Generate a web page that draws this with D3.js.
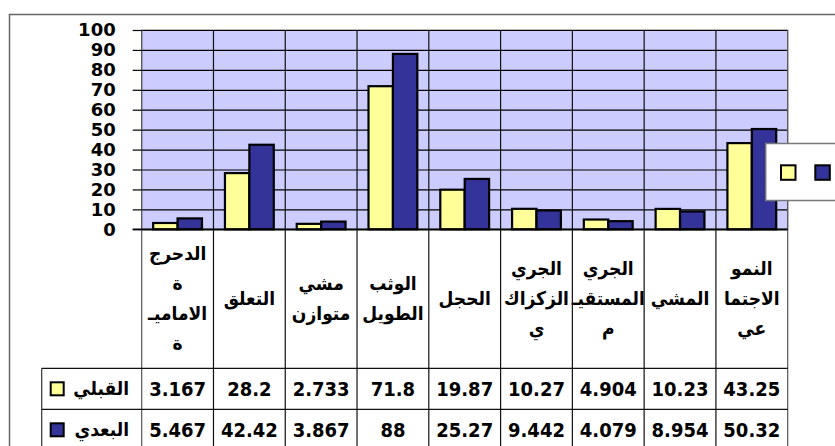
<!DOCTYPE html>
<html>
<head>
<meta charset="utf-8">
<script src="https://cdn.jsdelivr.net/npm/d3@7"></script>
<style>
  body { margin: 0; background: #fff; }
  svg { display: block; }
  .axis path { display: none; }
</style>
</head>
<body>
<script>
// Data
var categories = [
  ["الدحرج", "ة", "الاماميـ", "ة"],
  ["التعلق"],
  ["مشي", "متوازن"],
  ["الوثب", "الطويل"],
  ["الحجل"],
  ["الجري", "الزكزاك", "ي"],
  ["الجري", "المستقيـ", "م"],
  ["المشي"],
  ["النمو", "الاجتما", "عي"]
];
var seriesNames = ["القبلي", "البعدي"];
var before = [3.167, 28.2, 2.733, 71.8, 19.87, 10.27, 4.904, 10.23, 43.25];
var after = [5.467, 42.42, 3.867, 88, 25.27, 9.442, 4.079, 8.954, 50.32];
var beforeLabels = ["3.167", "28.2", "2.733", "71.8", "19.87", "10.27", "4.904", "10.23", "43.25"];
var afterLabels = ["5.467", "42.42", "3.867", "88", "25.27", "9.442", "4.079", "8.954", "50.32"];
var yTicks = [0, 10, 20, 30, 40, 50, 60, 70, 80, 90, 100];
var colors = ["#FFFF99", "#333399"];

// Width and height
var w = 835;
var h = 446;
var plotLeft = 141.7, plotRight = 787.7, plotTop = 30, plotBottom = 229.3;
var font = "'DejaVu Sans Condensed', 'DejaVu Sans', sans-serif";

var svg = d3.select("body")
            .append("svg")
            .attr("width", w)
            .attr("height", h);

// Chart area border
svg.append("rect")
  .attr("x", 9.5)
  .attr("y", 14.5)
  .attr("width", w + 10)
  .attr("height", h + 10)
  .attr("fill", "#fff")
  .attr("stroke", "#666")
  .attr("stroke-width", 1.5);

var idx = d3.range(categories.length);

// Scales
var x0 = d3.scaleBand()
           .domain(idx)
           .range([plotLeft, plotRight])
           .paddingInner(0.32)
           .paddingOuter(0.16);

var x1 = d3.scaleBand()
           .domain([0, 1])
           .range([0, x0.bandwidth()]);

var y = d3.scaleLinear()
          .domain([0, 100])
          .range([plotBottom, plotTop]);

var step = x0.step();
var colLeft = function(i) { return plotLeft + i * step; };

// Plot area background
svg.append("rect")
  .attr("x", plotLeft)
  .attr("y", plotTop)
  .attr("width", plotRight - plotLeft)
  .attr("height", plotBottom - plotTop)
  .attr("fill", "#CCCCFF")
  .attr("stroke", "#777")
  .attr("stroke-width", 1);

// Horizontal gridlines
svg.append("g")
  .attr("class", "axis")
  .attr("transform", "translate(" + plotLeft + ",0)")
  .call(d3.axisLeft(y).tickValues(yTicks).tickSize(-(plotRight - plotLeft)).tickFormat(""))
  .selectAll("line")
  .attr("stroke", "#000")
  .attr("stroke-width", 1.2);

// Vertical category lines (plot + table)
svg.selectAll("line.vgrid")
  .data(d3.range(categories.length + 1))
  .enter()
  .append("line")
  .attr("class", "vgrid")
  .attr("x1", function(d) { return colLeft(d); })
  .attr("x2", function(d) { return colLeft(d); })
  .attr("y1", plotTop)
  .attr("y2", h)
  .attr("stroke", function(d) { return d === 0 || d === categories.length ? "#555" : "#111"; })
  .attr("stroke-width", 1.2);

// Y axis labels + tick marks
var yAxis = svg.append("g")
  .attr("class", "axis")
  .attr("transform", "translate(" + plotLeft + ",0)")
  .call(d3.axisLeft(y).tickValues(yTicks).tickSize(9).tickPadding(17));
yAxis.selectAll("line").attr("stroke", "#000").attr("stroke-width", 1.2);
yAxis.selectAll("text")
  .attr("font-family", "'DejaVu Sans', sans-serif")
  .attr("font-weight", "bold")
  .attr("font-size", "18px")
  .attr("fill", "#000");

// Bars
var groups = svg.selectAll("g.cat")
  .data(idx)
  .enter()
  .append("g")
  .attr("class", "cat")
  .attr("transform", function(i) { return "translate(" + x0(i) + ",0)"; });

groups.selectAll("rect")
  .data(function(i) { return [before[i], after[i]]; })
  .enter()
  .append("rect")
  .attr("x", function(d, j) { return x1(j); })
  .attr("y", function(d) { return y(d); })
  .attr("width", x1.bandwidth())
  .attr("height", function(d) { return plotBottom - y(d); })
  .attr("fill", function(d, j) { return colors[j]; })
  .attr("stroke", "#000")
  .attr("stroke-width", 2.2);

// Axis baseline / table top
svg.append("line")
  .attr("x1", plotLeft - 9)
  .attr("x2", plotRight)
  .attr("y1", plotBottom)
  .attr("y2", plotBottom)
  .attr("stroke", "#000")
  .attr("stroke-width", 1.5);

// Data table
var headerBottom = 368.3;
var rowH = 41;
var tableLeft = 41.7;

// Horizontal table lines
svg.selectAll("line.hrow")
  .data([0, 1, 2])
  .enter()
  .append("line")
  .attr("class", "hrow")
  .attr("x1", tableLeft)
  .attr("x2", plotRight)
  .attr("y1", function(d) { return headerBottom + d * rowH; })
  .attr("y2", function(d) { return headerBottom + d * rowH; })
  .attr("stroke", "#111")
  .attr("stroke-width", 1.2);

svg.append("line")
  .attr("x1", tableLeft)
  .attr("x2", tableLeft)
  .attr("y1", headerBottom)
  .attr("y2", h)
  .attr("stroke", "#333")
  .attr("stroke-width", 1.2);

// Category labels
var lineH = 30;
var headerMid = (plotBottom + headerBottom) / 2;
svg.selectAll("text.cat")
  .data(idx)
  .enter()
  .append("text")
  .attr("class", "cat")
  .attr("font-family", font)
  .attr("font-weight", "bold")
  .attr("font-size", "19px")
  .attr("text-anchor", "middle")
  .attr("fill", "#000")
  .each(function(i) {
    var lines = categories[i];
    var t = d3.select(this);
    lines.forEach(function(s, k) {
      t.append("tspan")
        .attr("x", colLeft(i) + step / 2)
        .attr("y", headerMid + (k - (lines.length - 1) / 2) * lineH)
        .attr("dy", "0.35em")
        .text(s);
    });
  });

// Value rows
[beforeLabels, afterLabels].forEach(function(labels, r) {
  var cy = headerBottom + r * rowH + rowH / 2;
  svg.selectAll("text.val" + r)
    .data(labels)
    .enter()
    .append("text")
    .attr("class", "val" + r)
    .attr("x", function(d, i) { return colLeft(i) + step / 2; })
    .attr("y", cy)
    .attr("dy", "0.36em")
    .attr("text-anchor", "middle")
    .attr("font-family", font)
    .attr("font-weight", "bold")
    .attr("font-size", "20px")
    .attr("fill", "#000")
    .text(function(d) { return d; });

  // row header: key + name
  svg.append("rect")
    .attr("x", 50.7)
    .attr("y", cy - 6.5)
    .attr("width", 13)
    .attr("height", 13)
    .attr("fill", colors[r])
    .attr("stroke", "#000")
    .attr("stroke-width", 2);

  svg.append("text")
    .attr("x", 129)
    .attr("y", cy)
    .attr("dy", "0.35em")
    .attr("text-anchor", "end")
    .attr("font-family", font)
    .attr("font-weight", "bold")
    .attr("font-size", "19px")
    .attr("fill", "#000")
    .text(seriesNames[r]);
});

// Legend
var legend = svg.append("g");
legend.append("rect")
  .attr("x", 765.7)
  .attr("y", 143.5)
  .attr("width", 90)
  .attr("height", 57)
  .attr("fill", "#fff")
  .attr("stroke", "#777")
  .attr("stroke-width", 1.5);

legend.selectAll("rect.key")
  .data(colors)
  .enter()
  .append("rect")
  .attr("class", "key")
  .attr("x", function(d, j) { return 781 + j * 34.3; })
  .attr("y", 165.3)
  .attr("width", 14.5)
  .attr("height", 14.5)
  .attr("fill", function(d) { return d; })
  .attr("stroke", "#000")
  .attr("stroke-width", 2);
</script>
</body>
</html>
